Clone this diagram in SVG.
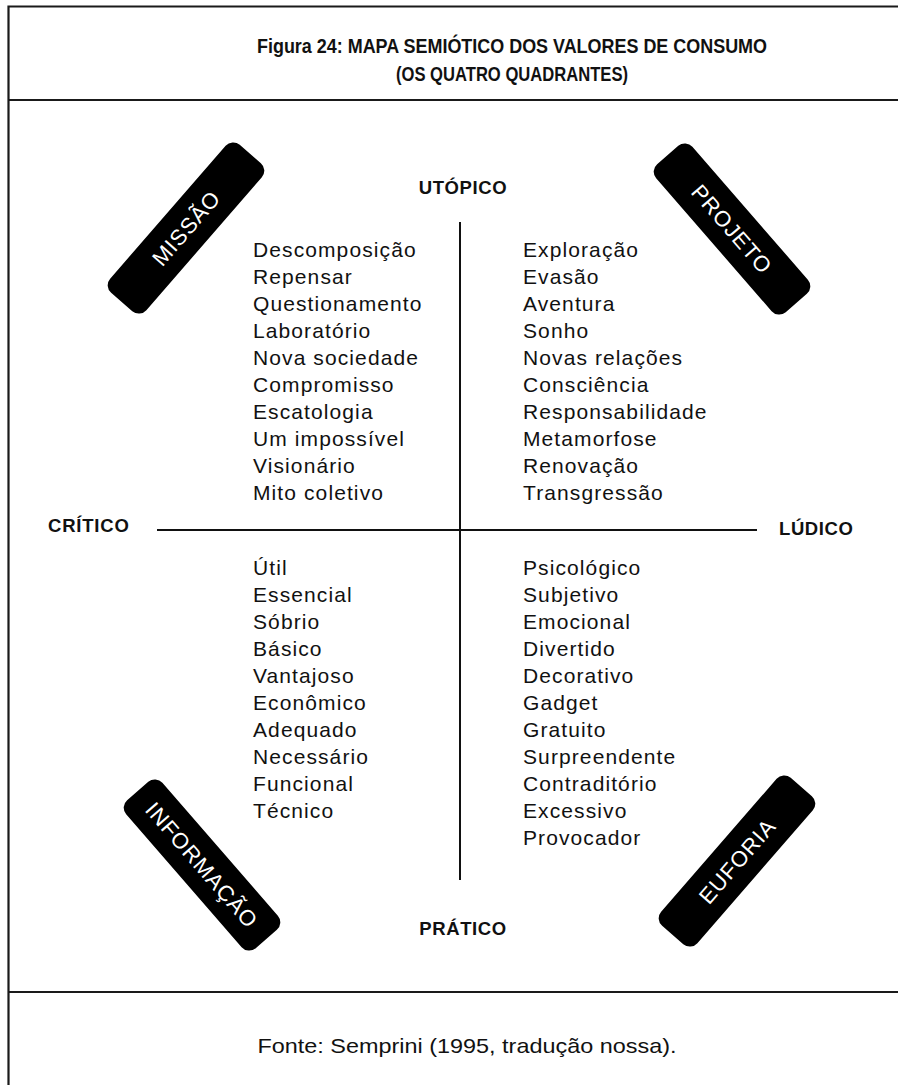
<svg xmlns="http://www.w3.org/2000/svg" width="898" height="1085" viewBox="0 0 898 1085">
  <style>
    .frame { fill: none; stroke: #1a1a1a; stroke-width: 2.2; }
    .axis { stroke: #111; stroke-width: 2; }
    .title { font-family: "Liberation Sans Narrow", "Liberation Sans", Arial, sans-serif; font-weight: bold; font-size: 21px; fill: #111; text-anchor: middle; }
    .foot { font-family: "Liberation Sans Narrow", "Liberation Sans", Arial, sans-serif; font-size: 21px; fill: #111; text-anchor: middle; }
    .pole { font-family: "Liberation Sans", Arial, sans-serif; font-weight: bold; font-size: 18.5px; fill: #111; }
    .item { font-family: "Liberation Sans", Arial, sans-serif; font-size: 21px; letter-spacing: 1.1px; fill: #111; }
    .tag rect { fill: #000; }
    .tag text { font-family: "Liberation Sans", Arial, sans-serif; font-size: 22px; letter-spacing: 0.9px; fill: #fff; text-anchor: middle; }
  </style>

  <!-- outer frame and section rules -->
  <g id="frame">
    <path class="frame" d="M898,6.5 H8.5 V1085"/>
    <line class="frame" x1="8.5" y1="100" x2="898" y2="100"/>
    <line class="frame" x1="8.5" y1="992" x2="898" y2="992"/>
  </g>

  <g id="title">
    <text class="title" x="512" y="53" textLength="510" lengthAdjust="spacingAndGlyphs">Figura 24: MAPA SEMIÓTICO DOS VALORES DE CONSUMO</text>
    <text class="title" x="512" y="81" textLength="232" lengthAdjust="spacingAndGlyphs">(OS QUATRO QUADRANTES)</text>
  </g>

  <!-- axes -->
  <g id="connectors">
    <line class="axis" x1="460" y1="222" x2="460" y2="880"/>
    <line class="axis" x1="157" y1="530" x2="757" y2="530"/>
  </g>

  <g id="poles">
    <text id="utopico" class="pole" x="463" y="194" text-anchor="middle" letter-spacing="0.6">UTÓPICO</text>
    <text id="pratico" class="pole" x="463" y="935" text-anchor="middle" letter-spacing="0.6">PRÁTICO</text>
    <text id="critico" class="pole" x="48" y="532" letter-spacing="0.8">CRÍTICO</text>
    <text id="ludico" class="pole" x="779" y="535" letter-spacing="0.6">LÚDICO</text>
  </g>

  <!-- quadrant value lists -->
  <g id="list-missao" class="item">
    <text x="253" y="257">Descomposição</text>
    <text x="253" y="284">Repensar</text>
    <text x="253" y="311">Questionamento</text>
    <text x="253" y="338">Laboratório</text>
    <text x="253" y="365">Nova sociedade</text>
    <text x="253" y="392">Compromisso</text>
    <text x="253" y="419">Escatologia</text>
    <text x="253" y="446">Um impossível</text>
    <text x="253" y="473">Visionário</text>
    <text x="253" y="500">Mito coletivo</text>
  </g>
  <g id="list-projeto" class="item">
    <text x="523" y="257">Exploração</text>
    <text x="523" y="284">Evasão</text>
    <text x="523" y="311">Aventura</text>
    <text x="523" y="338">Sonho</text>
    <text x="523" y="365">Novas relações</text>
    <text x="523" y="392">Consciência</text>
    <text x="523" y="419">Responsabilidade</text>
    <text x="523" y="446">Metamorfose</text>
    <text x="523" y="473">Renovação</text>
    <text x="523" y="500">Transgressão</text>
  </g>
  <g id="list-informacao" class="item">
    <text x="253" y="575">Útil</text>
    <text x="253" y="602">Essencial</text>
    <text x="253" y="629">Sóbrio</text>
    <text x="253" y="656">Básico</text>
    <text x="253" y="683">Vantajoso</text>
    <text x="253" y="710">Econômico</text>
    <text x="253" y="737">Adequado</text>
    <text x="253" y="764">Necessário</text>
    <text x="253" y="791">Funcional</text>
    <text x="253" y="818">Técnico</text>
  </g>
  <g id="list-euforia" class="item">
    <text x="523" y="575">Psicológico</text>
    <text x="523" y="602">Subjetivo</text>
    <text x="523" y="629">Emocional</text>
    <text x="523" y="656">Divertido</text>
    <text x="523" y="683">Decorativo</text>
    <text x="523" y="710">Gadget</text>
    <text x="523" y="737">Gratuito</text>
    <text x="523" y="764">Surpreendente</text>
    <text x="523" y="791">Contraditório</text>
    <text x="523" y="818">Excessivo</text>
    <text x="523" y="845">Provocador</text>
  </g>

  <!-- quadrant name tags -->
  <g id="missao" class="tag" transform="translate(186,228) rotate(-49)">
    <rect x="-98" y="-24" width="196" height="48" rx="10"/>
    <text x="0" y="8">MISSÃO</text>
  </g>
  <g id="projeto" class="tag" transform="translate(732,229) rotate(49)">
    <rect x="-98" y="-24" width="196" height="48" rx="10"/>
    <text x="0" y="8">PROJETO</text>
  </g>
  <g id="informacao" class="tag" transform="translate(202,865) rotate(49)">
    <rect x="-98" y="-24" width="196" height="48" rx="10"/>
    <text x="0" y="8">INFORMAÇÃO</text>
  </g>
  <g id="euforia" class="tag" transform="translate(737,861) rotate(-49)">
    <rect x="-98" y="-24" width="196" height="48" rx="10"/>
    <text x="0" y="8">EUFORIA</text>
  </g>

  <g id="source">
    <text class="foot" x="467" y="1053" textLength="419" lengthAdjust="spacingAndGlyphs">Fonte: Semprini (1995, tradução nossa).</text>
  </g>
</svg>
